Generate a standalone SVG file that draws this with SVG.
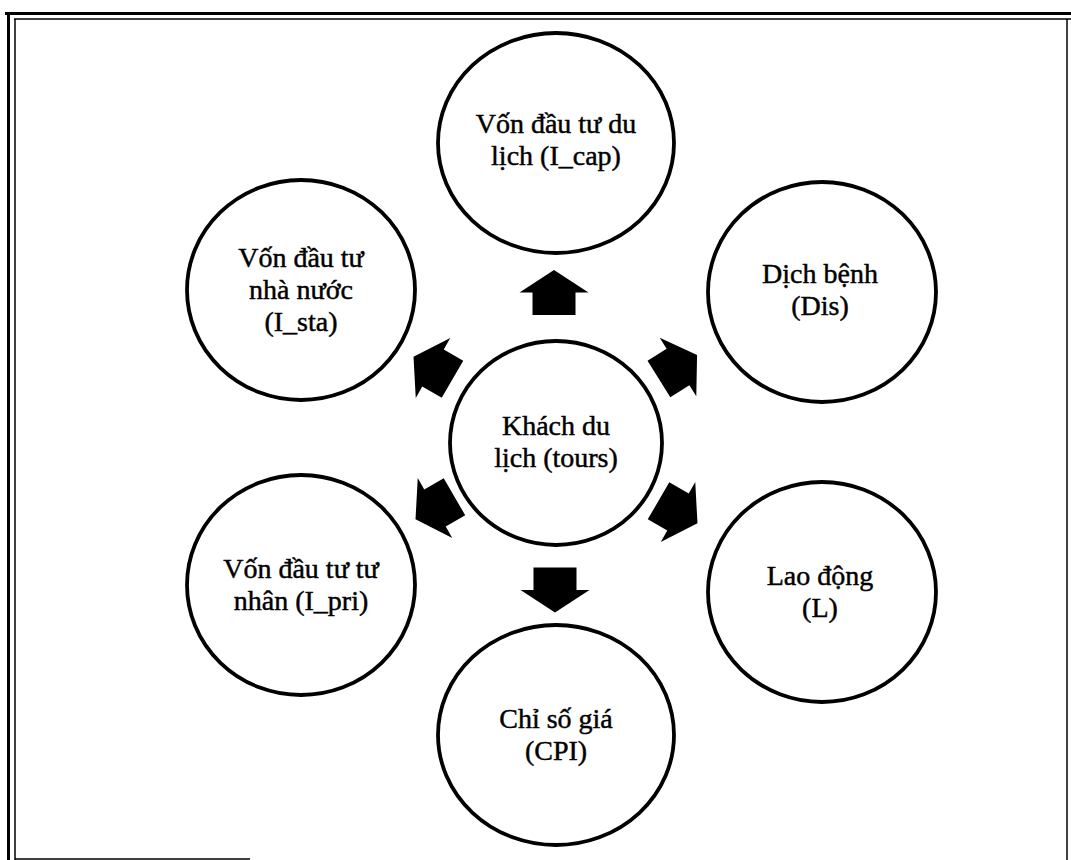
<svg xmlns="http://www.w3.org/2000/svg" xmlns:xlink="http://www.w3.org/1999/xlink" width="1071" height="860" viewBox="0 0 1071 860">
<style>
.node ellipse{fill:#fff;stroke:#000;stroke-width:3.8}
.node text{font-family:"Liberation Serif","Times New Roman",serif;font-size:28px;fill:#000;stroke:#000;stroke-width:0.45;text-anchor:middle}
.frame{fill:none;stroke:#000}
.arr{fill:#000}
</style>
<defs>
<path id="blk" d="M-22.5,-21.5 H0 V-34.5 L22.5,0 L0,34.5 V21.5 H-22.5 Z"/>
<pattern id="dots" width="8" height="8" patternUnits="userSpaceOnUse">
<rect width="8" height="8" fill="#000"/>
<rect x="1" y="2" width="2" height="2" fill="#bbb"/>
<rect x="5" y="5" width="2" height="2" fill="#999"/>
</pattern>
</defs>
<rect width="1071" height="860" fill="#fff"/>
<g id="frame">
<line class="frame" x1="5" y1="13.5" x2="1071" y2="13.5" stroke-width="3"/>
<line class="frame" x1="14" y1="19" x2="1071" y2="19" stroke-width="1.5"/>
<line class="frame" x1="8.5" y1="12" x2="8.5" y2="860" stroke-width="3"/>
<line class="frame" x1="15" y1="19" x2="15" y2="860" stroke-width="1.5"/>
<line class="frame" x1="15" y1="859" x2="250" y2="859" stroke-width="1.5" stroke="#444"/>
<line class="frame" x1="1067" y1="19" x2="1067" y2="860" stroke-width="1.5"/>
</g>
<g id="connectors">
<use href="#blk" class="arr" fill="url(#dots)" transform="translate(554,292.5) rotate(-90)"/>
<use href="#blk" class="arr" transform="translate(555,590) rotate(90)"/>
<use href="#blk" class="arr" transform="translate(678,367) rotate(-32)"/>
<use href="#blk" class="arr" transform="translate(433,368) rotate(-150)"/>
<use href="#blk" class="arr" transform="translate(435,508) rotate(150)"/>
<use href="#blk" class="arr" transform="translate(678,512) rotate(30)"/>
</g>
<g id="n_tours" class="node">
<ellipse cx="556" cy="443" rx="106" ry="102"/>
<text x="556" y="435">Khách du</text>
<text x="556" y="467">lịch (tours)</text>
</g>
<g id="n_icap" class="node">
<ellipse cx="556" cy="143" rx="118" ry="110"/>
<text x="556" y="133">Vốn đầu tư du</text>
<text x="556" y="165">lịch (I_cap)</text>
</g>
<g id="n_ista" class="node">
<ellipse cx="301" cy="290" rx="114" ry="110"/>
<text x="301" y="267">Vốn đầu tư</text>
<text x="301" y="299">nhà nước</text>
<text x="301" y="331">(I_sta)</text>
</g>
<g id="n_dis" class="node">
<ellipse cx="822" cy="292" rx="114" ry="110"/>
<text x="820" y="283">Dịch bệnh</text>
<text x="820" y="315">(Dis)</text>
</g>
<g id="n_ipri" class="node">
<ellipse cx="301" cy="585" rx="114" ry="110"/>
<text x="301" y="578">Vốn đầu tư tư</text>
<text x="301" y="610">nhân (I_pri)</text>
</g>
<g id="n_l" class="node">
<ellipse cx="822" cy="592" rx="114" ry="110"/>
<text x="820" y="585">Lao động</text>
<text x="820" y="617">(L)</text>
</g>
<g id="n_cpi" class="node">
<ellipse cx="556" cy="735" rx="118" ry="110"/>
<text x="556" y="728">Chỉ số giá</text>
<text x="556" y="760">(CPI)</text>
</g>
</svg>
